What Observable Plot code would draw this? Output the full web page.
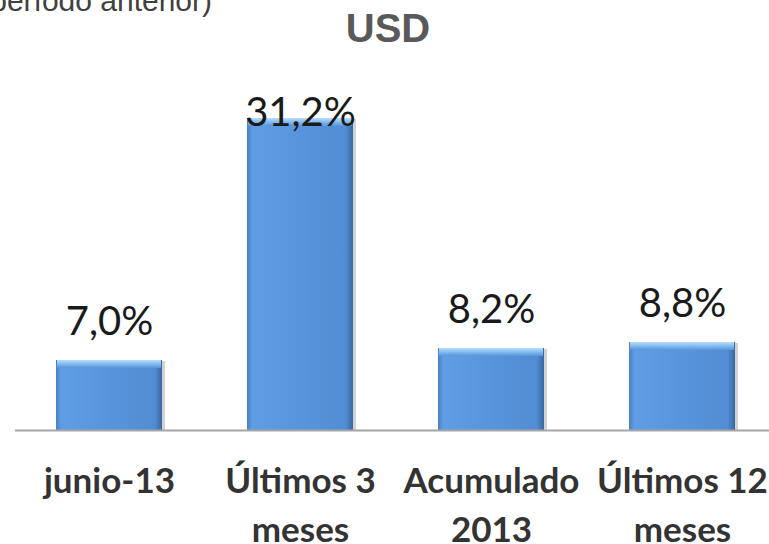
<!DOCTYPE html>
<html><head><meta charset="utf-8">
<script src="https://cdn.jsdelivr.net/npm/d3@7"></script>
<script src="https://cdn.jsdelivr.net/npm/@observablehq/plot@0.6"></script>
<style>
html,body{margin:0;padding:0;background:#fff;width:769px;height:544px;overflow:hidden;}
#header{position:relative;height:50px;overflow:hidden;}
#subtitle{position:absolute;right:557px;top:-14px;font:30px/30px "Liberation Sans",Arial,sans-serif;color:#404040;white-space:nowrap;}
#title{position:absolute;left:288px;width:200px;text-align:center;top:8px;font:bold 40px/40px "Liberation Sans",Arial,sans-serif;color:#595959;}
#chart svg{display:block;overflow:visible;}
</style></head><body>
<svg width="0" height="0" style="position:absolute"><defs>
<linearGradient id="barH" x1="0" y1="0" x2="1" y2="0">
<stop offset="0" stop-color="#4a80c2"/><stop offset="0.05" stop-color="#5f9de4"/>
<stop offset="0.5" stop-color="#5894db"/><stop offset="0.93" stop-color="#528dd4"/>
<stop offset="1" stop-color="#3a689f"/></linearGradient>
<linearGradient id="barTop" x1="0" y1="0" x2="0" y2="1">
<stop offset="0" stop-color="#b8defc"/><stop offset="0.35" stop-color="#92c6f4"/>
<stop offset="1" stop-color="#5894db"/></linearGradient>
</defs></svg>
<div id="header"><div id="subtitle">(variación respecto al período anterior)</div><div id="title">USD</div></div>
<div id="chart"></div>
<script>
const categories = ["junio-13", "Últimos 3 meses", "Acumulado 2013", "Últimos 12 meses"];
const values = [7.0, 31.2, 8.2, 8.8];
const valueLabels = ["7,0%", "31,2%", "8,2%", "8,8%"];
const tickLabels = ["junio-13", "Últimos 3\nmeses", "Acumulado\n2013", "Últimos 12\nmeses"];

const data = categories.map((c, i) => ({category: c, value: values[i], label: valueLabels[i]}));
const labelGap = 2.6;     // gap above bar, in value units
const labelCeiling = 30.5; // labels are kept inside the plot area

const chart = Plot.plot({
  width: 769, height: 494,
  marginLeft: 15, marginRight: 0, marginTop: 30, marginBottom: 114,
  x: {domain: categories, range: [13, 778], paddingInner: 0.445, paddingOuter: 0.2225, align: 0.5},
  y: {domain: [0, 35], range: [380, 30], axis: null},
  style: {background: "transparent"},
  marks: [
    Plot.barY(data, {x: "category", y: "value", fill: "#6b6b6b", fillOpacity: 0.3, dx: 3, dy: 1}),
    Plot.barY(data, {x: "category", y: "value", fill: "url(#barH)"}),
    Plot.barY(data, {x: "category", y1: d => d.value - 0.8, y2: "value", fill: "url(#barTop)", insetLeft: 1, insetRight: 1}),
    Plot.ruleY([0], {stroke: "#a6a6a6", strokeWidth: 2}),
    Plot.text(data, {x: "category", y: d => Math.min(d.value + labelGap, labelCeiling), text: "label",
      lineAnchor: "bottom", fontSize: 40, fill: "#1a1a1a", fontFamily: "Lato"}),
    Plot.axisX({tickSize: 0, tickPadding: 28, label: null,
      tickFormat: d => tickLabels[categories.indexOf(d)],
      fontSize: 35, fontWeight: "bold", fill: "#333333", fontFamily: "Lato", lineHeight: 1.4})
  ]
});
document.getElementById("chart").appendChild(chart);
</script>
</body></html>
